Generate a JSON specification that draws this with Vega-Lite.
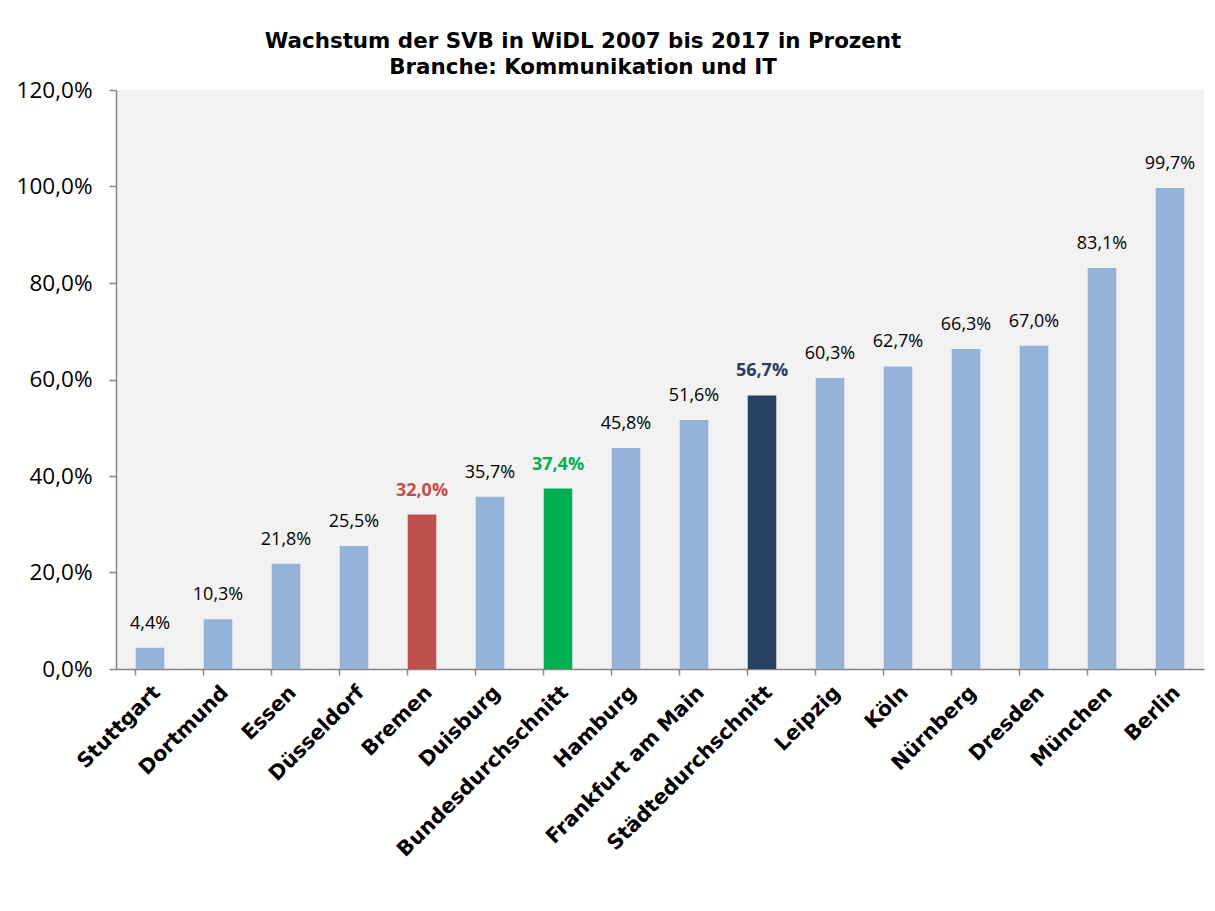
{
  "$schema": "https://vega.github.io/schema/vega-lite/v6.json",
  "width": 1088,
  "height": 579,
  "autosize": {"type": "none"},
  "padding": {"left": 116, "top": 90, "right": 11, "bottom": 242},
  "background": "white",
  "config": {
    "locale": {"number": {"decimal": ",", "thousands": ".", "grouping": [3], "currency": ["", " €"]}},
    "view": {"fill": "#f2f2f2", "stroke": null}
  },
  "title": {
    "text": ["Wachstum der SVB in WiDL 2007 bis 2017 in Prozent", "Branche: Kommunikation und IT"],
    "font": "DejaVu Sans",
    "fontSize": 21.4,
    "fontWeight": "bold",
    "color": "#000000",
    "lineHeight": 26,
    "frame": "group",
    "anchor": "start",
    "align": "center",
    "dx": 467,
    "offset": 1
  },
  "data": {
    "values": [
      {"stadt": "Stuttgart", "wert": 0.044, "gruppe": "Stadt"},
      {"stadt": "Dortmund", "wert": 0.103, "gruppe": "Stadt"},
      {"stadt": "Essen", "wert": 0.218, "gruppe": "Stadt"},
      {"stadt": "Düsseldorf", "wert": 0.255, "gruppe": "Stadt"},
      {"stadt": "Bremen", "wert": 0.320, "gruppe": "Bremen"},
      {"stadt": "Duisburg", "wert": 0.357, "gruppe": "Stadt"},
      {"stadt": "Bundesdurchschnitt", "wert": 0.374, "gruppe": "Bund"},
      {"stadt": "Hamburg", "wert": 0.458, "gruppe": "Stadt"},
      {"stadt": "Frankfurt am Main", "wert": 0.516, "gruppe": "Stadt"},
      {"stadt": "Städtedurchschnitt", "wert": 0.567, "gruppe": "Städte"},
      {"stadt": "Leipzig", "wert": 0.603, "gruppe": "Stadt"},
      {"stadt": "Köln", "wert": 0.627, "gruppe": "Stadt"},
      {"stadt": "Nürnberg", "wert": 0.663, "gruppe": "Stadt"},
      {"stadt": "Dresden", "wert": 0.670, "gruppe": "Stadt"},
      {"stadt": "München", "wert": 0.831, "gruppe": "Stadt"},
      {"stadt": "Berlin", "wert": 0.997, "gruppe": "Stadt"}
    ]
  },
  "encoding": {
    "x": {
      "field": "stadt",
      "type": "nominal",
      "sort": null,
      "scale": {"paddingInner": 0.58, "paddingOuter": 0.29},
      "axis": {
        "title": null,
        "labelAngle": -45,
        "labelFont": "DejaVu Sans",
        "labelFontWeight": "bold",
        "labelFontSize": 20.5,
        "labelColor": "#000000",
        "labelLimit": 0,
        "labelPadding": 7,
        "bandPosition": 0,
        "tickSize": 6,
        "tickColor": "#868686",
        "tickWidth": 1.5,
        "domainColor": "#868686",
        "domainWidth": 1.5,
        "grid": false
      }
    },
    "y": {
      "field": "wert",
      "type": "quantitative",
      "scale": {"domain": [0, 1.2], "nice": false},
      "axis": {
        "title": null,
        "format": ".1%",
        "values": [0, 0.2, 0.4, 0.6, 0.8, 1.0, 1.2],
        "labelFont": "Open Sans",
        "labelFontSize": 22.5,
        "labelColor": "#000000",
        "labelPadding": 17,
        "tickSize": 7,
        "tickColor": "#868686",
        "tickWidth": 1.5,
        "domainColor": "#868686",
        "domainWidth": 1.5,
        "grid": false
      }
    }
  },
  "layer": [
    {
      "mark": {"type": "bar"},
      "encoding": {
        "color": {
          "field": "gruppe",
          "type": "nominal",
          "scale": {"domain": ["Stadt", "Bremen", "Bund", "Städte"], "range": ["#95b3d7", "#c0504d", "#00b050", "#254061"]},
          "legend": null
        }
      }
    },
    {
      "transform": [{"filter": "datum.gruppe == 'Stadt'"}],
      "mark": {"type": "text", "font": "Open Sans", "fontSize": 18, "baseline": "alphabetic", "dy": -19, "color": "#000000"},
      "encoding": {
        "text": {"field": "wert", "type": "quantitative", "format": ".1%"}
      }
    },
    {
      "transform": [{"filter": "datum.gruppe != 'Stadt'"}],
      "mark": {"type": "text", "font": "Open Sans", "fontSize": 18, "fontWeight": "bold", "baseline": "alphabetic", "dy": -19},
      "encoding": {
        "text": {"field": "wert", "type": "quantitative", "format": ".1%"},
        "color": {
          "field": "gruppe",
          "type": "nominal",
          "scale": {"domain": ["Bremen", "Bund", "Städte"], "range": ["#c0504d", "#00b050", "#254061"]},
          "legend": null
        }
      }
    }
  ],
  "resolve": {"scale": {"color": "independent"}}
}
